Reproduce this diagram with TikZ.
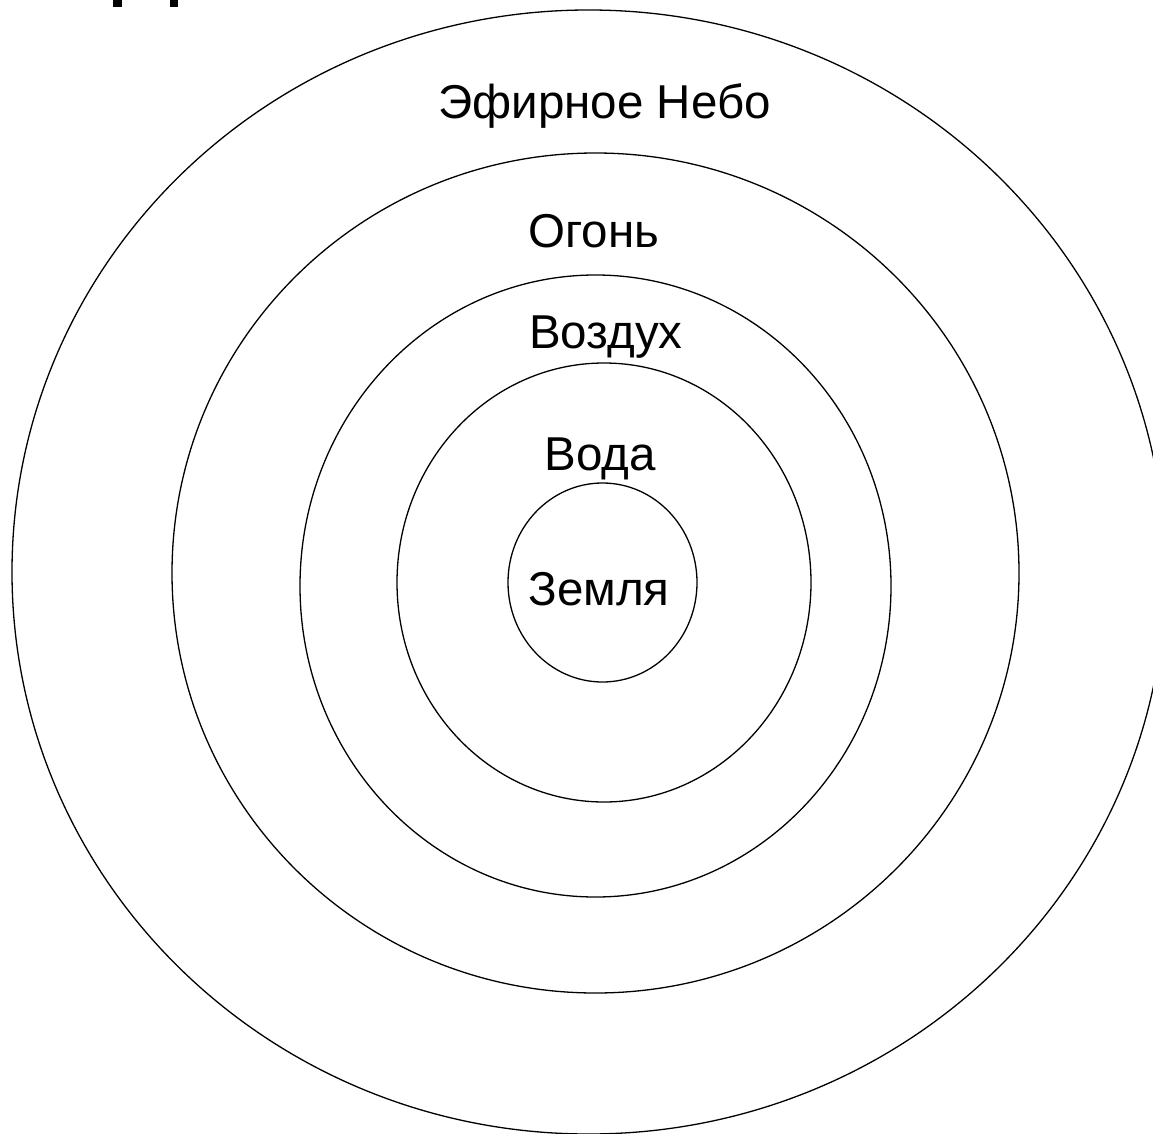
\documentclass[tikz,border=0pt]{standalone}
\usepackage{fontspec}
\setmainfont{Liberation Sans}
\begin{document}
\begin{tikzpicture}[x=1pt,y=-1pt,
  ring/.style={draw=black,line width=1.3pt},
  lab/.style={anchor=base,inner sep=0pt,font=\fontsize{47.5}{57}\selectfont}]
\useasboundingbox (0,0) rectangle (1153,1134);
\clip (0,0) rectangle (1153,1134);
\fill[white] (0,0) rectangle (1153,1134);
% rings
\draw[ring] (588.7,572) ellipse [x radius=576.7, y radius=562];
\draw[ring] (595.5,573) ellipse [x radius=423.5, y radius=420];
\draw[ring] (595.5,586) ellipse [x radius=295.5, y radius=311];
\draw[ring] (604,582.5) ellipse [x radius=207, y radius=219.5];
\draw[ring] (602.5,582.5) ellipse [x radius=94.5, y radius=99.5];
% labels
\node[lab] (ether) at (604.5,119) {Эфирное Небо};
\node[lab] (fire) at (594,247) {Огонь};
\node[lab] (air) at (606,348) {Воздух};
\node[lab] (water) at (600,470) {Вода};
\node[lab] (earth) at (599,605) {Земля};
% cut-off fragments at top left
\fill[black] (113,0) rectangle (122,7);
\fill[black] (170,0) rectangle (178,7);
\end{tikzpicture}
\end{document}
